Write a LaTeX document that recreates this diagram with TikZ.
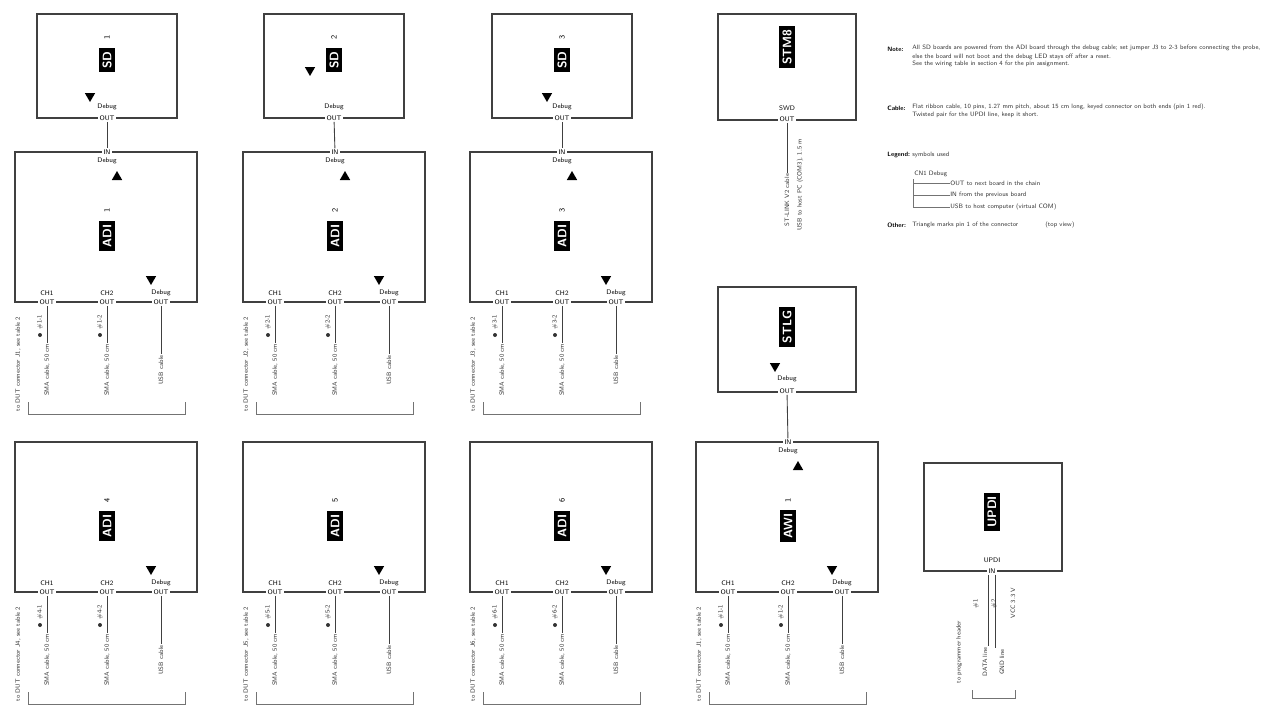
\documentclass[tikz,border=0pt]{standalone}
\usepackage{tikz}
\usetikzlibrary{shapes.geometric,calc,positioning}
\tikzset{
  board/.style={draw=black!75, line width=1.5pt, inner sep=0pt},
  tag/.style={fill=black, text=white, rotate=90, inner sep=2pt, font=\sffamily\bfseries\fontsize{7}{8}\selectfont},
  num/.style={rotate=90, inner sep=0.5pt, font=\sffamily\fontsize{4.5}{5}\selectfont},
  port/.style={inner sep=0.6pt, font=\sffamily\fontsize{3.8}{4.2}\selectfont},
  side/.style={rotate=90, inner sep=0.5pt, text=black!80, font=\sffamily\fontsize{3.6}{4}\selectfont},
  wire/.style={draw=black!75, line width=0.5pt},
  brace/.style={draw=black!55, line width=0.5pt},
  trid/.style={regular polygon, regular polygon sides=3, shape border rotate=180, fill=black, inner sep=0pt, minimum size=0.24cm},
  triu/.style={regular polygon, regular polygon sides=3, fill=black, inner sep=0pt, minimum size=0.24cm},
  dot/.style={circle, fill=black!80, inner sep=0pt, minimum size=0.08cm},
  note/.style={anchor=west, inner sep=0pt, text=black!80, font=\sffamily\fontsize{3.6}{4}\selectfont},
  notehead/.style={anchor=west, inner sep=0pt, font=\sffamily\bfseries\fontsize{3.6}{4}\selectfont}
}
\begin{document}
\begin{tikzpicture}[x=0.02cm,y=-0.02cm]
  \useasboundingbox (0,0) rectangle (1278,710);

  % ADI / AWI boards with their three output ports
  \foreach \bx/\by/\nm/\lab/\num in {15/152/ada/ADI/1, 243/152/adb/ADI/2, 470/152/adc/ADI/3,
      15/442/add/ADI/4, 243/442/ade/ADI/5, 470/442/adf/ADI/6, 696/442/awa/AWI/1}{
    \node[board, minimum width=3.64cm, minimum height=3cm] (\nm) at (\bx+91,\by+75) {};
    \node[num] (\nm-n) at (\bx+92,\by+58) {\num};
    \node[tag] (\nm-t) at (\bx+92,\by+84) {\lab};
    \node[trid] (\nm-d) at (\bx+136,\by+127) {};
    \foreach \i/\px/\pa/\cab in {1/32/CH1/{SMA cable, 50 cm},2/92/CH2/{SMA cable, 50 cm},3/146/Debug/{USB cable}}{
      \node[port] (\nm-u\i) at (\bx+\px,\by+141) {\pa};
      \node[port, fill=white] (\nm-p\i) at (\bx+\px,\by+150) {OUT};
      \node[side] (\nm-c\i) at (\bx+\px,\by+218) {\cab};
      \draw[wire] (\nm-p\i) -- (\nm-c\i);
    }
    \node[side] (\nm-k1) at (\bx+25,\by+170) {\#\num-1};
    \node[dot] (\nm-o1) at (\bx+25,\by+183) {};
    \node[side] (\nm-k2) at (\bx+85,\by+170) {\#\num-2};
    \node[dot] (\nm-o2) at (\bx+85,\by+183) {};
    \node[side] (\nm-l) at (\bx+3,\by+212) {to DUT connector J\num, see table 2};
    \draw[brace] (\bx+13,\by+250) |- (\bx+170,\by+262) -- (\bx+170,\by+250);
  }

  % input ports on top of the chained boards
  \foreach \bx/\by/\nm in {15/152/ada, 243/152/adb, 470/152/adc, 696/442/awa}{
    \node[port, fill=white] (\nm-q) at (\bx+92,\by) {IN};
    \node[port] (\nm-qq) at (\bx+92,\by+9) {Debug};
    \node[triu] (\nm-up) at (\bx+102,\by+25) {};
  }

  % SD boards
  \node[board, minimum width=2.8cm, minimum height=2.08cm] (sda) at (107,66) {};
  \node[num] (sda-n) at (107,37) {1};
  \node[tag] (sda-t) at (107,60) {SD};
  \node[trid] (sda-d) at (90,96) {};
  \node[port] (sda-u) at (107,107) {Debug};
  \node[port, fill=white] (sda-p) at (107,118) {OUT};

  \node[board, minimum width=2.8cm, minimum height=2.08cm] (sdb) at (334,66) {};
  \node[num] (sdb-n) at (334,37) {2};
  \node[tag] (sdb-t) at (334,60) {SD};
  \node[trid] (sdb-d) at (310,70) {};
  \node[port] (sdb-u) at (334,107) {Debug};
  \node[port, fill=white] (sdb-p) at (334,118) {OUT};

  \node[board, minimum width=2.8cm, minimum height=2.08cm] (sdc) at (562,66) {};
  \node[num] (sdc-n) at (562,37) {3};
  \node[tag] (sdc-t) at (562,60) {SD};
  \node[trid] (sdc-d) at (547,96) {};
  \node[port] (sdc-u) at (562,107) {Debug};
  \node[port, fill=white] (sdc-p) at (562,118) {OUT};

  \draw[wire] (sda-p) -- (ada-q);
  \draw[wire] (sdb-p) -- (adb-q);
  \draw[wire] (sdc-p) -- (adc-q);

  % STM8 and STLG
  \node[board, minimum width=2.76cm, minimum height=2.12cm] (stm) at (787,67) {};
  \node[tag] (stm-t) at (787,47) {STM8};
  \node[port] (stm-u) at (787,108) {SWD};
  \node[port, fill=white] (stm-p) at (787,119) {OUT};
  \node[side] (stm-c) at (787,200) {ST-LINK V2 cable};
  \node[side] (stm-h) at (800,185) {USB to host PC (COM3), 1.5 m};
  \draw[wire] (stm-p) -- (stm-c);

  \node[board, minimum width=2.76cm, minimum height=2.1cm] (stl) at (787,339.5) {};
  \node[tag] (stl-t) at (787,327) {STLG};
  \node[trid] (stl-d) at (775,366) {};
  \node[port] (stl-u) at (787,379) {Debug};
  \node[port, fill=white] (stl-p) at (787,391) {OUT};
  \draw[wire] (stl-p) -- (awa-q);

  % UPDI programmer
  \node[board, minimum width=2.76cm, minimum height=2.16cm] (updi) at (993,517) {};
  \node[tag] (updi-t) at (992,512) {UPDI};
  \node[port] (updi-u) at (992,560) {UPDI};
  \node[port, fill=white] (updi-p) at (992,571) {IN};
  \node[side] (updi-c1) at (985,662) {DATA line};
  \node[side] (updi-c2) at (1002,662) {GND line};
  \draw[wire] (updi-p.south west) ++(1,0) coordinate (updi-s1) -- (updi-s1 |- updi-c1.east);
  \draw[wire] (updi-p.south east) ++(-1,0) coordinate (updi-s2) -- (updi-s2 |- updi-c2.east);
  \node[side] (updi-k1) at (976,604) {\#1};
  \node[side] (updi-k2) at (994,604) {\#2};
  \node[side] (updi-c3) at (1013,603) {VCC 3.3 V};
  \node[side] (updi-l) at (959,652) {to programmer header};
  \draw[brace] (972,690) |- (1015,698) -- (1015,690);

  % notes
  \node[notehead] (n1) at (887,49) {Note:};
  \node[note] (n1a) at (912,48) {All SD boards are powered from the ADI board through the debug cable; set jumper J3 to 2-3 before connecting the probe,};
  \node[note] (n1b) at (912,57) {else the board will not boot and the debug LED stays off after a reset.};
  \node[note] (n1c) at (912,64) {See the wiring table in section 4 for the pin assignment.};
  \node[notehead] (n2) at (887,108) {Cable:};
  \node[note] (n2a) at (912,107) {Flat ribbon cable, 10 pins, 1.27 mm pitch, about 15 cm long, keyed connector on both ends (pin 1 red).};
  \node[note] (n2b) at (912,115) {Twisted pair for the UPDI line, keep it short.};
  \node[notehead] (n3) at (887,155) {Legend:};
  \node[note] (n3a) at (912,155) {symbols used};
  \node[note] (n3b) at (914,174) {CN1 Debug};
  \node[note] (n3c) at (950,183) {OUT to next board in the chain};
  \node[note] (n3d) at (950,195) {IN from the previous board};
  \node[note] (n3e) at (950,207) {USB to host computer (virtual COM)};
  \draw[brace] (913,179) |- (n3e.west);
  \draw[brace] (913,183) -- (n3c.west);
  \draw[brace] (913,195) -- (n3d.west);
  \node[notehead] (n4) at (887,225) {Other:};
  \node[note] (n4a) at (912,225) {Triangle marks pin 1 of the connector};
  \node[note] (n4b) at (1045,225) {(top view)};
\end{tikzpicture}
\end{document}
